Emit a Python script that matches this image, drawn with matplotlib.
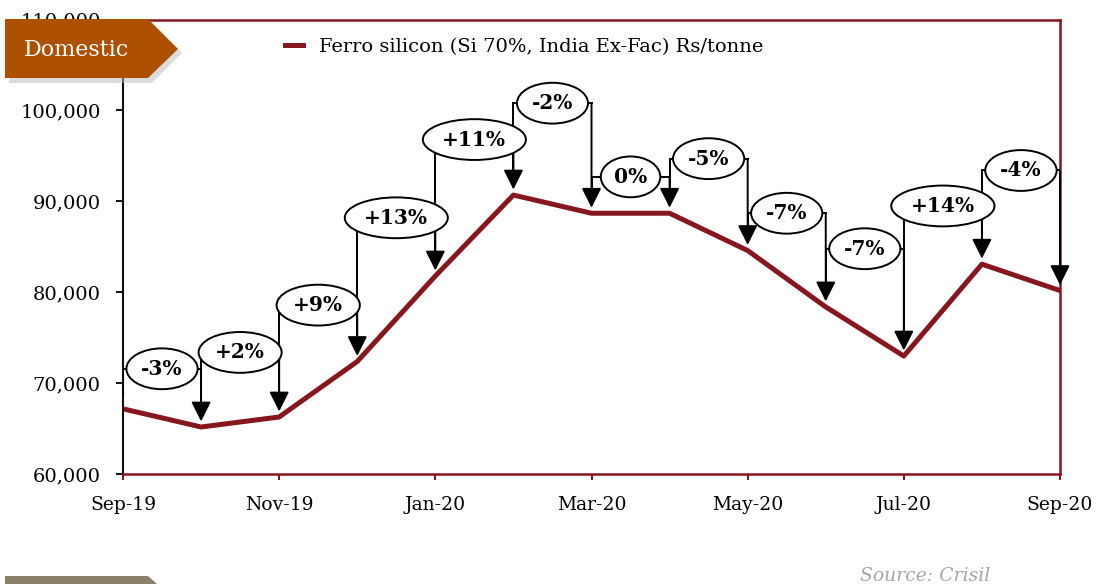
import numpy as np
import matplotlib
matplotlib.use("Agg")
import matplotlib.pyplot as plt
from matplotlib.patches import Polygon

plt.rcParams['font.family'] = ['DejaVu Serif']

# monthly price, Rs/tonne
months = ['Sep-19', 'Oct-19', 'Nov-19', 'Dec-19', 'Jan-20', 'Feb-20', 'Mar-20',
          'Apr-20', 'May-20', 'Jun-20', 'Jul-20', 'Aug-20', 'Sep-20']
price = [67200, 65200, 66300, 72400, 81800, 90700, 88700,
         88700, 84600, 78400, 73000, 83100, 80200]
change_labels = ['-3%', '+2%', '+9%', '+13%', '+11%', '-2%', '0%',
                 '-5%', '-7%', '-7%', '+14%', '-4%']
# height of each callout bubble (in axis units)
callout_y = [71600, 73400, 78600, 88200, 96800, 100800, 92700,
             94700, 88700, 84800, 89500, 93400]
yticks = [60000, 70000, 80000, 90000, 100000, 110000]
series_name = 'Ferro silicon (Si 70%, India Ex-Fac) Rs/tonne'

RED = '#87171f'
W, H = 1099, 584

fig = plt.figure(figsize=(W / 100, H / 100), dpi=100)
ax = fig.add_axes([123 / W, 1 - 474.3 / H, (1060 - 123) / W, (474.3 - 19.5) / H])

x = np.arange(len(months))
ax.plot(x, price, color=RED, lw=3.6, zorder=2, label=series_name)

ax.set_xlim(0, len(months) - 1)
ax.set_ylim(yticks[0], yticks[-1])
ax.set_xticks(x[::2])
ax.set_xticklabels(months[::2])
ax.set_yticks(yticks)
ax.set_yticklabels([f'{v:,}' for v in yticks])
ax.tick_params(axis='x', color=RED, labelcolor='black', length=4.5, width=1.5,
               pad=11, labelsize=13.5)
ax.tick_params(axis='y', color='black', length=5, width=1.3, pad=11, labelsize=14)

for side in ['top', 'right', 'bottom']:
    ax.spines[side].set_color(RED)
    ax.spines[side].set_linewidth(1.8)
ax.spines['left'].set_color('#1a0a0a')
ax.spines['left'].set_linewidth(1.5)

# change callouts: elbow from previous month over to this month, arrow down
for i in range(1, len(months)):
    lvl = callout_y[i - 1]
    x0, x1 = x[i - 1], x[i]
    ax.plot([x0, x0, x1], [price[i - 1] + 1500, lvl, lvl], color='black', lw=1.4,
            zorder=3, solid_joinstyle='miter')
    ax.annotate('', xy=(x1, price[i]), xytext=(x1, lvl),
                arrowprops=dict(arrowstyle='-|>,head_length=0.6,head_width=0.3',
                                mutation_scale=20, color='black', lw=1.4,
                                shrinkA=0, shrinkB=4),
                zorder=3, annotation_clip=False)
    ax.text((x0 + x1) / 2, lvl, change_labels[i - 1], ha='center', va='center',
            fontsize=14.5, fontweight='bold', zorder=4,
            bbox=dict(boxstyle='ellipse,pad=0.22', fc='white', ec='black', lw=1.4))

ax.legend(loc='upper left', bbox_to_anchor=((285 - 123) / 937, (474.3 - 38) / 454.8),
          frameon=False, fontsize=14, handlelength=0.95, handletextpad=0.8,
          borderpad=0, borderaxespad=0)


def fpx(px, py):
    return (px / W, 1 - py / H)


# "Domestic" tag
shadow = Polygon([fpx(9, 23), fpx(152, 23), fpx(182, 53), fpx(152, 83), fpx(9, 83)],
                 closed=True, transform=fig.transFigure, fc='#bbbbbb', ec='none',
                 alpha=0.5, zorder=9)
tag = Polygon([fpx(5, 19), fpx(148, 19), fpx(178, 49), fpx(148, 78), fpx(5, 78)],
              closed=True, transform=fig.transFigure, fc='#ad5000', ec='none', zorder=10)
fig.patches.extend([shadow, tag])
fig.text(*fpx(24, 50), 'Domestic', color='white', fontsize=16, ha='left',
         va='center', zorder=11)

# next section tag peeking in at the bottom
tag2 = Polygon([fpx(5, 576), fpx(148, 576), fpx(157, 584), fpx(5, 584)], closed=True,
               transform=fig.transFigure, fc='#8b8068', ec='none', zorder=10)
fig.patches.append(tag2)

fig.text(*fpx(860, 576), 'Source: Crisil', style='italic', color='#a6a6a6',
         fontsize=13.5, ha='left', va='center')

fig.savefig('out.png', dpi=100)
